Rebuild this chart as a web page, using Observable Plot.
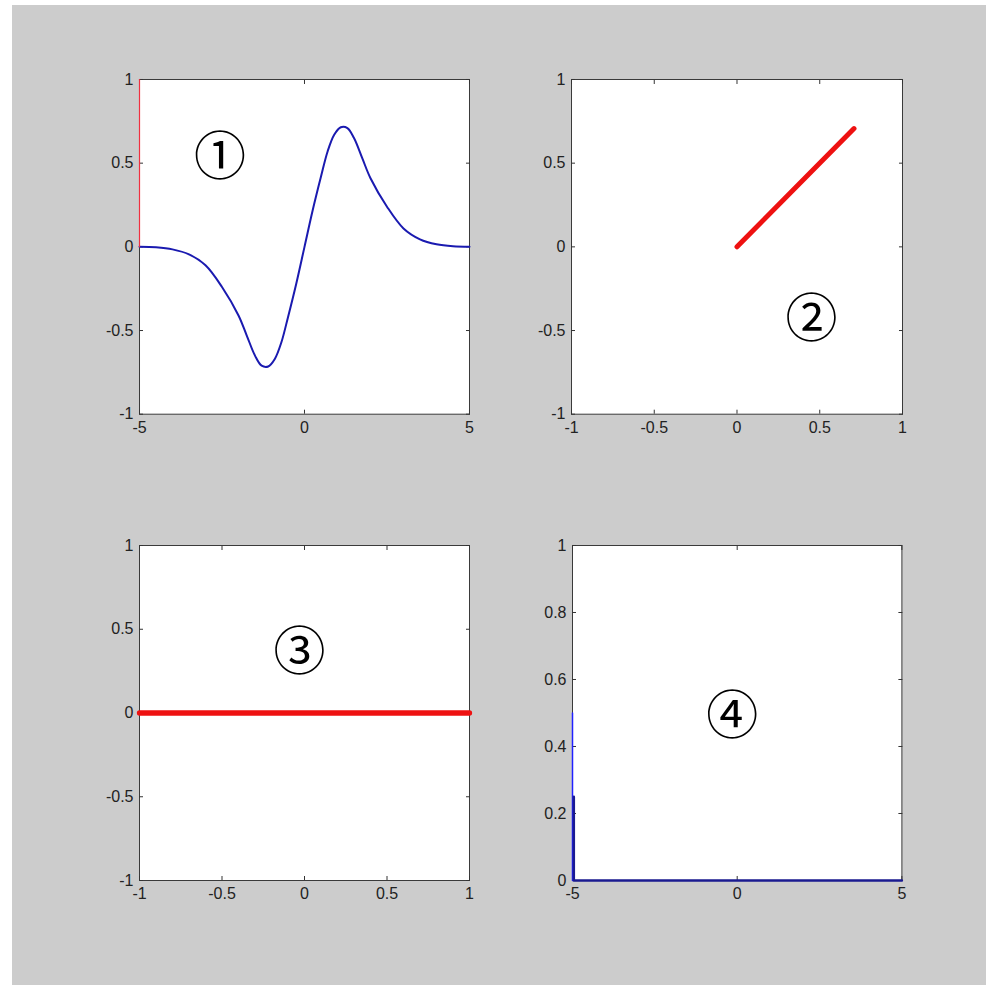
<!DOCTYPE html>
<html>
<head>
<meta charset="utf-8">
<script src="https://cdn.jsdelivr.net/npm/d3@7"></script>
<script src="https://cdn.jsdelivr.net/npm/@observablehq/plot@0.6"></script>
<style>
  html, body { margin: 0; padding: 0; background: #ffffff; }
  #page { position: relative; width: 986px; height: 985px; background: #ffffff; overflow: hidden; }
  #gray { position: absolute; left: 12px; top: 5px; width: 974px; height: 980px; background: #cccccc; }
  .panel { position: absolute; }
</style>
</head>
<body>
<div id="page"><div id="gray"></div></div>
<script>
// ---- Data ----
// Panel 1: blue curve
const curveX = [-5, -4.5, -4, -3.5, -3, -2.5, -2, -1.75, -1.5, -1.3, -1.1, -0.9, -0.7, -0.5, -0.25, 0, 0.25, 0.5, 0.7, 0.9, 1.1, 1.3, 1.5, 1.75, 2, 2.5, 3, 3.5, 4, 4.5, 5];
const curveY = [0, -0.003, -0.015, -0.045, -0.11, -0.24, -0.41, -0.53, -0.65, -0.71, -0.715, -0.67, -0.57, -0.42, -0.22, 0, 0.22, 0.42, 0.57, 0.67, 0.715, 0.71, 0.65, 0.53, 0.41, 0.24, 0.11, 0.045, 0.015, 0.003, 0];
// Panel 1: thin red line at left edge
const edgeX = [-5, -5];
const edgeY = [0, 1];
// Panel 2: thick red diagonal
const diagX = [0, 0.707];
const diagY = [0, 0.707];
// Panel 3: thick red horizontal
const flatX = [-1, 1];
const flatY = [0, 0];
// Panel 4: blue spikes and baseline
const spikeX = [-5, -5];
const spikeY = [0.5, 0];
const baseX = [-4.96, -4.96, 5];
const baseY = [0.25, 0, 0];
// Circled labels
const labels = ["①", "②", "③", "④"];
const labelX = [-2.56, 0.45, -0.03, -0.15];
const labelY = [0.53, -0.44, 0.355, 0.487];
// Tick values
const ticks5 = [-5, 0, 5];
const ticks1 = [-1, -0.5, 0, 0.5, 1];
const ticks01 = [0, 0.2, 0.4, 0.6, 0.8, 1];

const zip = (xs, ys) => xs.map((x, i) => ({x, y: ys[i]}));
const fmt = d => String(d);

function panel({left, top, w, h, xDomain, yDomain, xTicks, yTicks, marks, label}) {
  const mL = 60, mR = 20, mT = 20, mB = 40;
  const tickColor = "#333";
  const plot = Plot.plot({
    width: w + mL + mR,
    height: h + mT + mB,
    marginLeft: mL, marginRight: mR, marginTop: mT, marginBottom: mB,
    x: {domain: xDomain},
    y: {domain: yDomain},
    style: {background: "transparent", fontFamily: "'Liberation Sans', Arial, sans-serif", fontSize: "16px", color: "#222", overflow: "visible"},
    marks: [
      Plot.frame({fill: "white", stroke: "#3a3a3a", strokeWidth: 1}),
      Plot.axisX({anchor: "bottom", ticks: xTicks, tickSize: -4, tickPadding: 11.5, tickFormat: fmt, label: null, stroke: tickColor, fill: "#222"}),
      Plot.axisX({anchor: "top", ticks: xTicks, tickSize: -4, tickFormat: () => "", label: null, stroke: tickColor}),
      Plot.axisY({anchor: "left", ticks: yTicks, tickSize: -4, tickPadding: 10, tickFormat: fmt, label: null, stroke: tickColor, fill: "#222"}),
      Plot.axisY({anchor: "right", ticks: yTicks, tickSize: -4, tickFormat: () => "", label: null, stroke: tickColor}),
      ...marks,
      Plot.text([label], {x: "x", y: "y", text: "t", fontFamily: "'Noto Sans CJK JP', 'DejaVu Sans', sans-serif", fontSize: 52, fill: "#000", textAnchor: "middle", lineAnchor: "middle"})
    ]
  });
  plot.classList.add("panel");
  plot.style.left = (left - mL) + "px";
  plot.style.top = (top - mT) + "px";
  plot.style.position = "absolute";
  document.getElementById("page").appendChild(plot);
}

const L = i => ({x: labelX[i], y: labelY[i], t: labels[i]});

panel({
  left: 139.3, top: 79.3, w: 330, h: 334.7,
  xDomain: [-5, 5], yDomain: [-1, 1], xTicks: ticks5, yTicks: ticks1,
  label: L(0),
  marks: [
    Plot.line(zip(curveX, curveY), {x: "x", y: "y", stroke: "#1a1ab0", strokeWidth: 2, curve: "catmull-rom"}),
    Plot.line(zip(edgeX, edgeY), {x: "x", y: "y", stroke: "#f03040", strokeWidth: 1.2})
  ]
});

panel({
  left: 571, top: 79.3, w: 331, h: 334.7,
  xDomain: [-1, 1], yDomain: [-1, 1], xTicks: ticks1, yTicks: ticks1,
  label: L(1),
  marks: [
    Plot.line(zip(diagX, diagY), {x: "x", y: "y", stroke: "#ee1111", strokeWidth: 5})
  ]
});

panel({
  left: 139.3, top: 545, w: 330, h: 335,
  xDomain: [-1, 1], yDomain: [-1, 1], xTicks: ticks1, yTicks: ticks1,
  label: L(2),
  marks: [
    Plot.line(zip(flatX, flatY), {x: "x", y: "y", stroke: "#ee1111", strokeWidth: 5.3})
  ]
});

panel({
  left: 572.3, top: 545, w: 329.4, h: 335,
  xDomain: [-5, 5], yDomain: [0, 1], xTicks: ticks5, yTicks: ticks01,
  label: L(3),
  marks: [
    Plot.line(zip(spikeX, spikeY), {x: "x", y: "y", stroke: "#2020ff", strokeWidth: 1.5}),
    Plot.line(zip(baseX, baseY), {x: "x", y: "y", stroke: "#1a1a90", strokeWidth: 2.5})
  ]
});
</script>
</body>
</html>
